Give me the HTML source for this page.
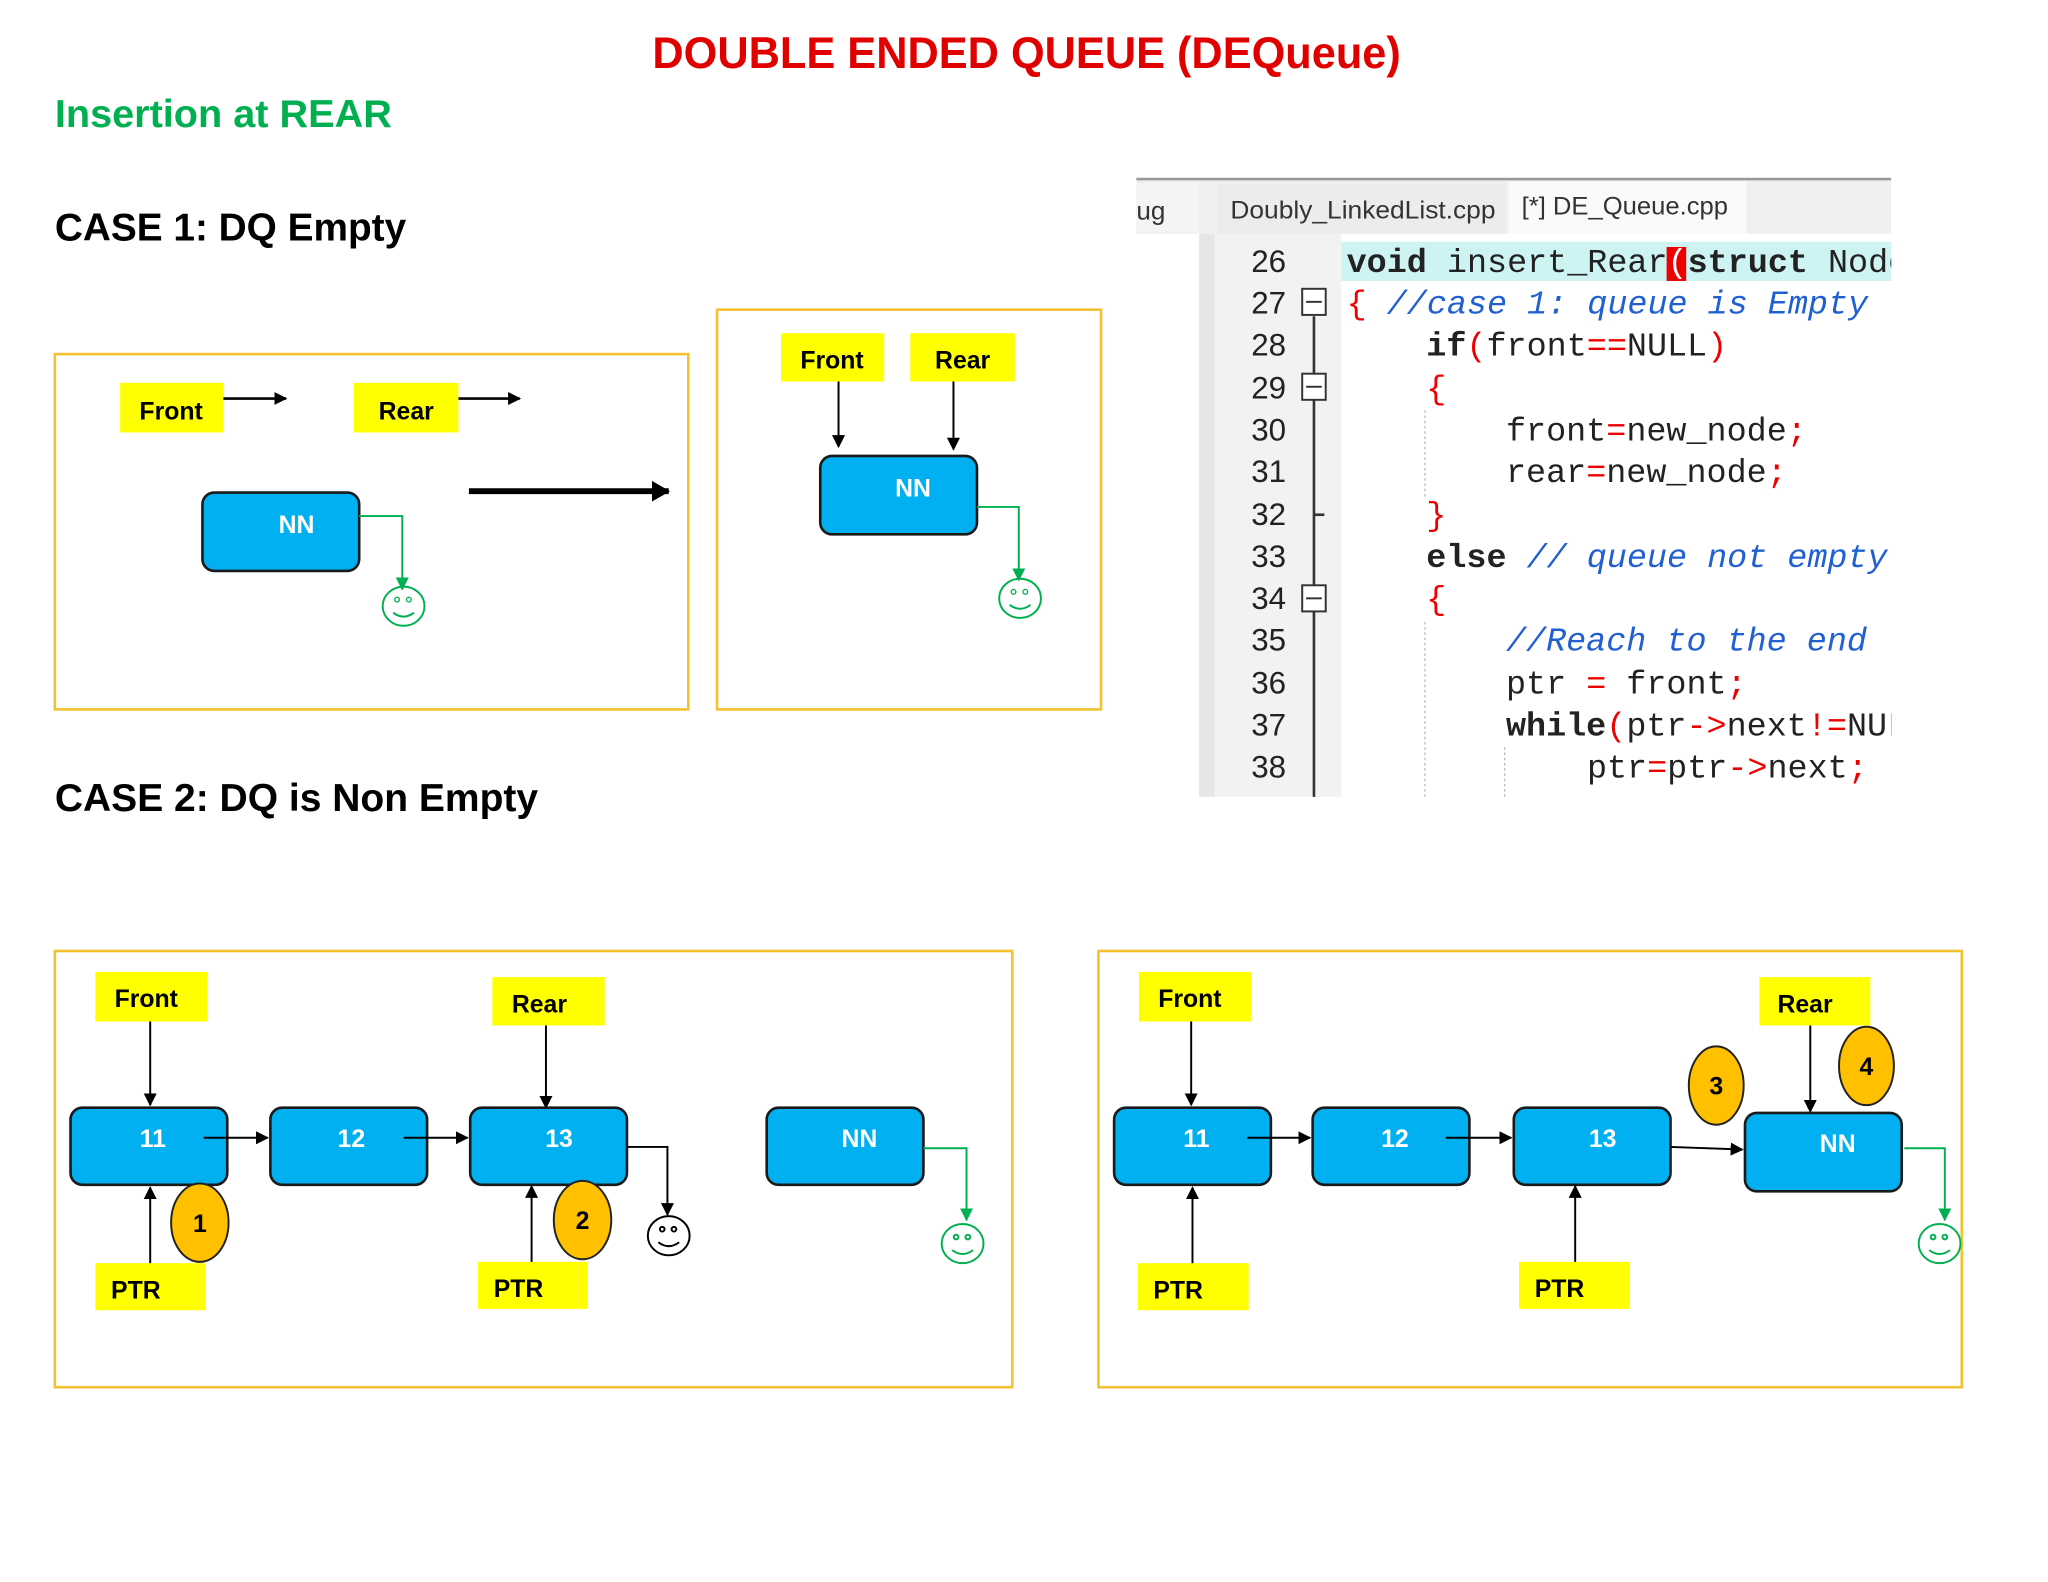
<!DOCTYPE html>
<html><head><meta charset="utf-8"><style>
html,body{margin:0;padding:0;background:#fff;}
svg{display:block;}
.lbl{font-family:"Liberation Sans",sans-serif;font-weight:bold;font-size:19px;fill:#000;text-anchor:middle;}
.nd{font-family:"Liberation Sans",sans-serif;font-weight:bold;font-size:19px;fill:#fff;text-anchor:middle;}
.code{font-family:"Liberation Mono",monospace;font-size:25.6px;fill:#222;}
.ln{font-family:"Liberation Sans",sans-serif;font-size:24px;fill:#222;}
</style></head><body>
<svg width="2048" height="1582" viewBox="0 0 1568 1211" xmlns="http://www.w3.org/2000/svg">
<defs>
<marker id="a" markerWidth="10" markerHeight="10" refX="9" refY="5" orient="auto" markerUnits="userSpaceOnUse"><path d="M0,0 L10,5 L0,10 z" fill="#000"/></marker>
<marker id="g" markerWidth="10" markerHeight="10" refX="9" refY="5" orient="auto" markerUnits="userSpaceOnUse"><path d="M0,0 L10,5 L0,10 z" fill="#00B050"/></marker>
<marker id="b" markerWidth="14" markerHeight="16" refX="13" refY="8" orient="auto" markerUnits="userSpaceOnUse"><path d="M0,0 L14,8 L0,16 z" fill="#000"/></marker>
</defs>
<rect width="1568" height="1211" fill="#fff"/>
<text x="786" y="52" text-anchor="middle" font-family="Liberation Sans,sans-serif" font-weight="bold" font-size="34" fill="#E00000" textLength="573" lengthAdjust="spacingAndGlyphs">DOUBLE ENDED QUEUE (DEQueue)</text>
<text x="42" y="97" font-family="Liberation Sans,sans-serif" font-weight="bold" font-size="30" fill="#00B050" textLength="258" lengthAdjust="spacingAndGlyphs">Insertion at REAR</text>
<text x="42" y="184" font-family="Liberation Sans,sans-serif" font-weight="bold" font-size="30" fill="#000" textLength="269" lengthAdjust="spacingAndGlyphs">CASE 1: DQ Empty</text>
<text x="42" y="621" font-family="Liberation Sans,sans-serif" font-weight="bold" font-size="30" fill="#000" textLength="370" lengthAdjust="spacingAndGlyphs">CASE 2: DQ is Non Empty</text>

<!-- Case 1 box 1 -->
<rect x="42" y="271" width="485" height="272" fill="none" stroke="#F2C232" stroke-width="2"/>
<rect x="92" y="293" width="79" height="38" fill="#FFFF00"/><text class="lbl" x="131" y="321">Front</text>
<line x1="171" y1="305" x2="219" y2="305" stroke="#000" stroke-width="2" marker-end="url(#a)"/>
<rect x="271" y="293" width="80" height="38" fill="#FFFF00"/><text class="lbl" x="311" y="321">Rear</text>
<line x1="351" y1="305" x2="398" y2="305" stroke="#000" stroke-width="2" marker-end="url(#a)"/>
<rect x="155" y="377" width="120" height="60" rx="9" fill="#00B0F0" stroke="#1a1a1a" stroke-width="2"/><text class="nd" x="227" y="408">NN</text>
<polyline points="275,395 308,395 308,451" fill="none" stroke="#00B050" stroke-width="1.5" marker-end="url(#g)"/>
<g stroke="#00B050" fill="none" stroke-width="1.5"><ellipse cx="309" cy="464" rx="16" ry="15"/><path d="M301,469 Q309,475 317,469"/></g>
<circle cx="304" cy="459" r="1.8" fill="none" stroke="#00B050"/><circle cx="313" cy="459" r="1.8" fill="none" stroke="#00B050"/>
<line x1="359" y1="376" x2="512" y2="376" stroke="#000" stroke-width="4.5" marker-end="url(#b)"/>

<!-- Case 1 box 2 -->
<rect x="549" y="237" width="294" height="306" fill="none" stroke="#F2C232" stroke-width="2"/>
<rect x="598" y="255" width="79" height="37" fill="#FFFF00"/><text class="lbl" x="637" y="282">Front</text>
<rect x="697" y="255" width="80" height="37" fill="#FFFF00"/><text class="lbl" x="737" y="282">Rear</text>
<line x1="642" y1="292" x2="642" y2="342" stroke="#000" stroke-width="1.5" marker-end="url(#a)"/>
<line x1="730" y1="292" x2="730" y2="344" stroke="#000" stroke-width="1.5" marker-end="url(#a)"/>
<rect x="628" y="349" width="120" height="60" rx="9" fill="#00B0F0" stroke="#1a1a1a" stroke-width="2"/><text class="nd" x="699" y="380">NN</text>
<polyline points="748,388 780,388 780,444" fill="none" stroke="#00B050" stroke-width="1.5" marker-end="url(#g)"/>
<g stroke="#00B050" fill="none" stroke-width="1.5"><ellipse cx="781" cy="458" rx="16" ry="15"/><path d="M773,463 Q781,469 789,463"/></g>
<circle cx="776" cy="453" r="1.8" fill="none" stroke="#00B050"/><circle cx="785" cy="453" r="1.8" fill="none" stroke="#00B050"/>

<!-- Code panel -->
<rect x="870" y="137" width="578" height="42" fill="#f0f0f0"/>
<line x1="870" y1="137" x2="1448" y2="137" stroke="#999" stroke-width="2"/>
<rect x="870" y="140" width="48" height="38" fill="#f4f4f4"/>
<text x="870" y="168" font-family="Liberation Sans,sans-serif" font-size="20" fill="#333">ug</text>
<rect x="932" y="141" width="220" height="38" fill="#ececec"/>
<text x="942" y="167" font-family="Liberation Sans,sans-serif" font-size="19" fill="#333" textLength="203" lengthAdjust="spacingAndGlyphs">Doubly_LinkedList.cpp</text>
<rect x="1155" y="139" width="182" height="40" fill="#fafafa"/>
<text x="1165" y="164" font-family="Liberation Sans,sans-serif" font-size="19" fill="#333" textLength="158" lengthAdjust="spacingAndGlyphs">[*] DE_Queue.cpp</text>
<rect x="918" y="179" width="12" height="431" fill="#e6e6e6"/>
<rect x="930" y="179" width="97" height="431" fill="#f2f2f2"/>
<rect x="1027" y="179" width="421" height="431" fill="#fff"/>
<rect x="1027" y="185" width="421" height="30" fill="#cdf3f3"/>
<g class="ln">
<text x="958" y="208">26</text><text x="958" y="240">27</text><text x="958" y="272">28</text><text x="958" y="305">29</text><text x="958" y="337">30</text><text x="958" y="369">31</text><text x="958" y="402">32</text><text x="958" y="434">33</text><text x="958" y="466">34</text><text x="958" y="498">35</text><text x="958" y="531">36</text><text x="958" y="563">37</text><text x="958" y="595">38</text>
</g>
<line x1="1006" y1="242" x2="1006" y2="610" stroke="#333" stroke-width="2"/>
<line x1="1006" y1="394" x2="1014" y2="394" stroke="#333" stroke-width="2"/>
<g fill="#fff" stroke="#333" stroke-width="1.5">
<rect x="997" y="221" width="18" height="20"/><rect x="997" y="286" width="18" height="20"/><rect x="997" y="448" width="18" height="20"/>
</g>
<g stroke="#333" stroke-width="1.5"><line x1="1000" y1="231" x2="1012" y2="231"/><line x1="1000" y1="296" x2="1012" y2="296"/><line x1="1000" y1="458" x2="1012" y2="458"/></g>
<rect x="1276" y="189" width="15" height="26" fill="#e00"/>
<g class="code">
<text x="1031" y="208"><tspan font-weight="bold">void</tspan> insert_Rear<tspan fill="#fff">(</tspan><tspan font-weight="bold">struct</tspan> Node</text>
<text x="1031" y="240"><tspan fill="#e00">{</tspan>   <tspan fill="#2060d0" font-style="italic">//case 1: queue is Empty</tspan></text>
<text x="1092" y="272"><tspan font-weight="bold">if</tspan><tspan fill="#e00">(</tspan>front<tspan fill="#e00">==</tspan>NULL<tspan fill="#e00">)</tspan></text>
<text x="1092" y="305" fill="#e00">{</text>
<text x="1153" y="337">front<tspan fill="#e00">=</tspan>new_node<tspan fill="#e00">;</tspan></text>
<text x="1153" y="369">rear<tspan fill="#e00">=</tspan>new_node<tspan fill="#e00">;</tspan></text>
<text x="1092" y="402" fill="#e00">}</text>
<text x="1092" y="434"><tspan font-weight="bold">else</tspan> <tspan fill="#2060d0" font-style="italic">// queue not empty</tspan></text>
<text x="1092" y="466" fill="#e00">{</text>
<text x="1153" y="498" fill="#2060d0" font-style="italic">//Reach to the end</text>
<text x="1153" y="531">ptr <tspan fill="#e00">=</tspan> front<tspan fill="#e00">;</tspan></text>
<text x="1153" y="563"><tspan font-weight="bold">while</tspan><tspan fill="#e00">(</tspan>ptr<tspan fill="#e00">-&gt;</tspan>next<tspan fill="#e00">!=</tspan>NULL</text>
<text x="1215" y="595">ptr<tspan fill="#e00">=</tspan>ptr<tspan fill="#e00">-&gt;</tspan>next<tspan fill="#e00">;</tspan></text>
</g>
<rect x="1448" y="135" width="120" height="480" fill="#fff"/>
<g stroke="#bbb" stroke-dasharray="2,2"><line x1="1091" y1="314" x2="1091" y2="380"/><line x1="1091" y1="476" x2="1091" y2="610"/><line x1="1152" y1="572" x2="1152" y2="610"/></g>

<!-- Case 2 box A -->
<rect x="42" y="728" width="733" height="334" fill="none" stroke="#F2C232" stroke-width="2"/>
<rect x="73" y="744" width="86" height="38" fill="#FFFF00"/><text class="lbl" x="112" y="771">Front</text>
<rect x="377" y="748" width="86" height="37" fill="#FFFF00"/><text class="lbl" x="413" y="775">Rear</text>
<line x1="115" y1="782" x2="115" y2="846" stroke="#000" stroke-width="1.5" marker-end="url(#a)"/>
<line x1="418" y1="785" x2="418" y2="848" stroke="#000" stroke-width="1.5" marker-end="url(#a)"/>
<g fill="#00B0F0" stroke="#1a1a1a" stroke-width="2">
<rect x="54" y="848" width="120" height="59" rx="9"/><rect x="207" y="848" width="120" height="59" rx="9"/><rect x="360" y="848" width="120" height="59" rx="9"/><rect x="587" y="848" width="120" height="59" rx="9"/>
</g>
<text class="nd" x="117" y="878">11</text><text class="nd" x="269" y="878">12</text><text class="nd" x="428" y="878">13</text><text class="nd" x="658" y="878">NN</text>
<line x1="156" y1="871" x2="205" y2="871" stroke="#000" stroke-width="1.5" marker-end="url(#a)"/>
<line x1="309" y1="871" x2="358" y2="871" stroke="#000" stroke-width="1.5" marker-end="url(#a)"/>
<polyline points="480,878 511,878 511,930" fill="none" stroke="#000" stroke-width="1.5" marker-end="url(#a)"/>
<g stroke="#000" fill="none" stroke-width="1.5"><ellipse cx="512" cy="946" rx="16" ry="15"/><path d="M504,951 Q512,957 520,951"/><circle cx="507" cy="941" r="1.8"/><circle cx="516" cy="941" r="1.8"/></g>
<polyline points="707,879 740,879 740,934" fill="none" stroke="#00B050" stroke-width="1.5" marker-end="url(#g)"/>
<g stroke="#00B050" fill="none" stroke-width="1.5"><ellipse cx="737" cy="952" rx="16" ry="15"/><path d="M729,957 Q737,963 745,957"/><circle cx="732" cy="947" r="1.8"/><circle cx="741" cy="947" r="1.8"/></g>
<rect x="73" y="967" width="84" height="36" fill="#FFFF00"/><text class="lbl" x="104" y="994">PTR</text>
<rect x="366" y="966" width="84" height="36" fill="#FFFF00"/><text class="lbl" x="397" y="993">PTR</text>
<line x1="115" y1="967" x2="115" y2="909" stroke="#000" stroke-width="1.5" marker-end="url(#a)"/>
<line x1="407" y1="966" x2="407" y2="908" stroke="#000" stroke-width="1.5" marker-end="url(#a)"/>
<ellipse cx="153" cy="936" rx="22" ry="30" fill="#FFC000" stroke="#222" stroke-width="1.5"/><text class="lbl" x="153" y="943">1</text>
<ellipse cx="446" cy="934" rx="22" ry="30" fill="#FFC000" stroke="#222" stroke-width="1.5"/><text class="lbl" x="446" y="941">2</text>

<!-- Case 2 box B -->
<rect x="841" y="728" width="661" height="334" fill="none" stroke="#F2C232" stroke-width="2"/>
<rect x="872" y="744" width="86" height="38" fill="#FFFF00"/><text class="lbl" x="911" y="771">Front</text>
<rect x="1347" y="748" width="85" height="37" fill="#FFFF00"/><text class="lbl" x="1382" y="775">Rear</text>
<line x1="912" y1="782" x2="912" y2="846" stroke="#000" stroke-width="1.5" marker-end="url(#a)"/>
<line x1="1386" y1="785" x2="1386" y2="851" stroke="#000" stroke-width="1.5" marker-end="url(#a)"/>
<g fill="#00B0F0" stroke="#1a1a1a" stroke-width="2">
<rect x="853" y="848" width="120" height="59" rx="9"/><rect x="1005" y="848" width="120" height="59" rx="9"/><rect x="1159" y="848" width="120" height="59" rx="9"/><rect x="1336" y="852" width="120" height="60" rx="9"/>
</g>
<text class="nd" x="916" y="878">11</text><text class="nd" x="1068" y="878">12</text><text class="nd" x="1227" y="878">13</text><text class="nd" x="1407" y="882">NN</text>
<line x1="955" y1="871" x2="1003" y2="871" stroke="#000" stroke-width="1.5" marker-end="url(#a)"/>
<line x1="1107" y1="871" x2="1157" y2="871" stroke="#000" stroke-width="1.5" marker-end="url(#a)"/>
<line x1="1279" y1="878" x2="1334" y2="880" stroke="#000" stroke-width="1.5" marker-end="url(#a)"/>
<polyline points="1458,879 1489,879 1489,934" fill="none" stroke="#00B050" stroke-width="1.5" marker-end="url(#g)"/>
<g stroke="#00B050" fill="none" stroke-width="1.5"><ellipse cx="1485" cy="952" rx="16" ry="15"/><path d="M1477,957 Q1485,963 1493,957"/><circle cx="1480" cy="947" r="1.8"/><circle cx="1489" cy="947" r="1.8"/></g>
<rect x="871" y="967" width="85" height="36" fill="#FFFF00"/><text class="lbl" x="902" y="994">PTR</text>
<rect x="1163" y="966" width="85" height="36" fill="#FFFF00"/><text class="lbl" x="1194" y="993">PTR</text>
<line x1="913" y1="967" x2="913" y2="909" stroke="#000" stroke-width="1.5" marker-end="url(#a)"/>
<line x1="1206" y1="966" x2="1206" y2="908" stroke="#000" stroke-width="1.5" marker-end="url(#a)"/>
<ellipse cx="1314" cy="831" rx="21" ry="30" fill="#FFC000" stroke="#222" stroke-width="1.5"/><text class="lbl" x="1314" y="838">3</text>
<ellipse cx="1429" cy="816" rx="21" ry="30" fill="#FFC000" stroke="#222" stroke-width="1.5"/><text class="lbl" x="1429" y="823">4</text>
</svg>
</body></html>
